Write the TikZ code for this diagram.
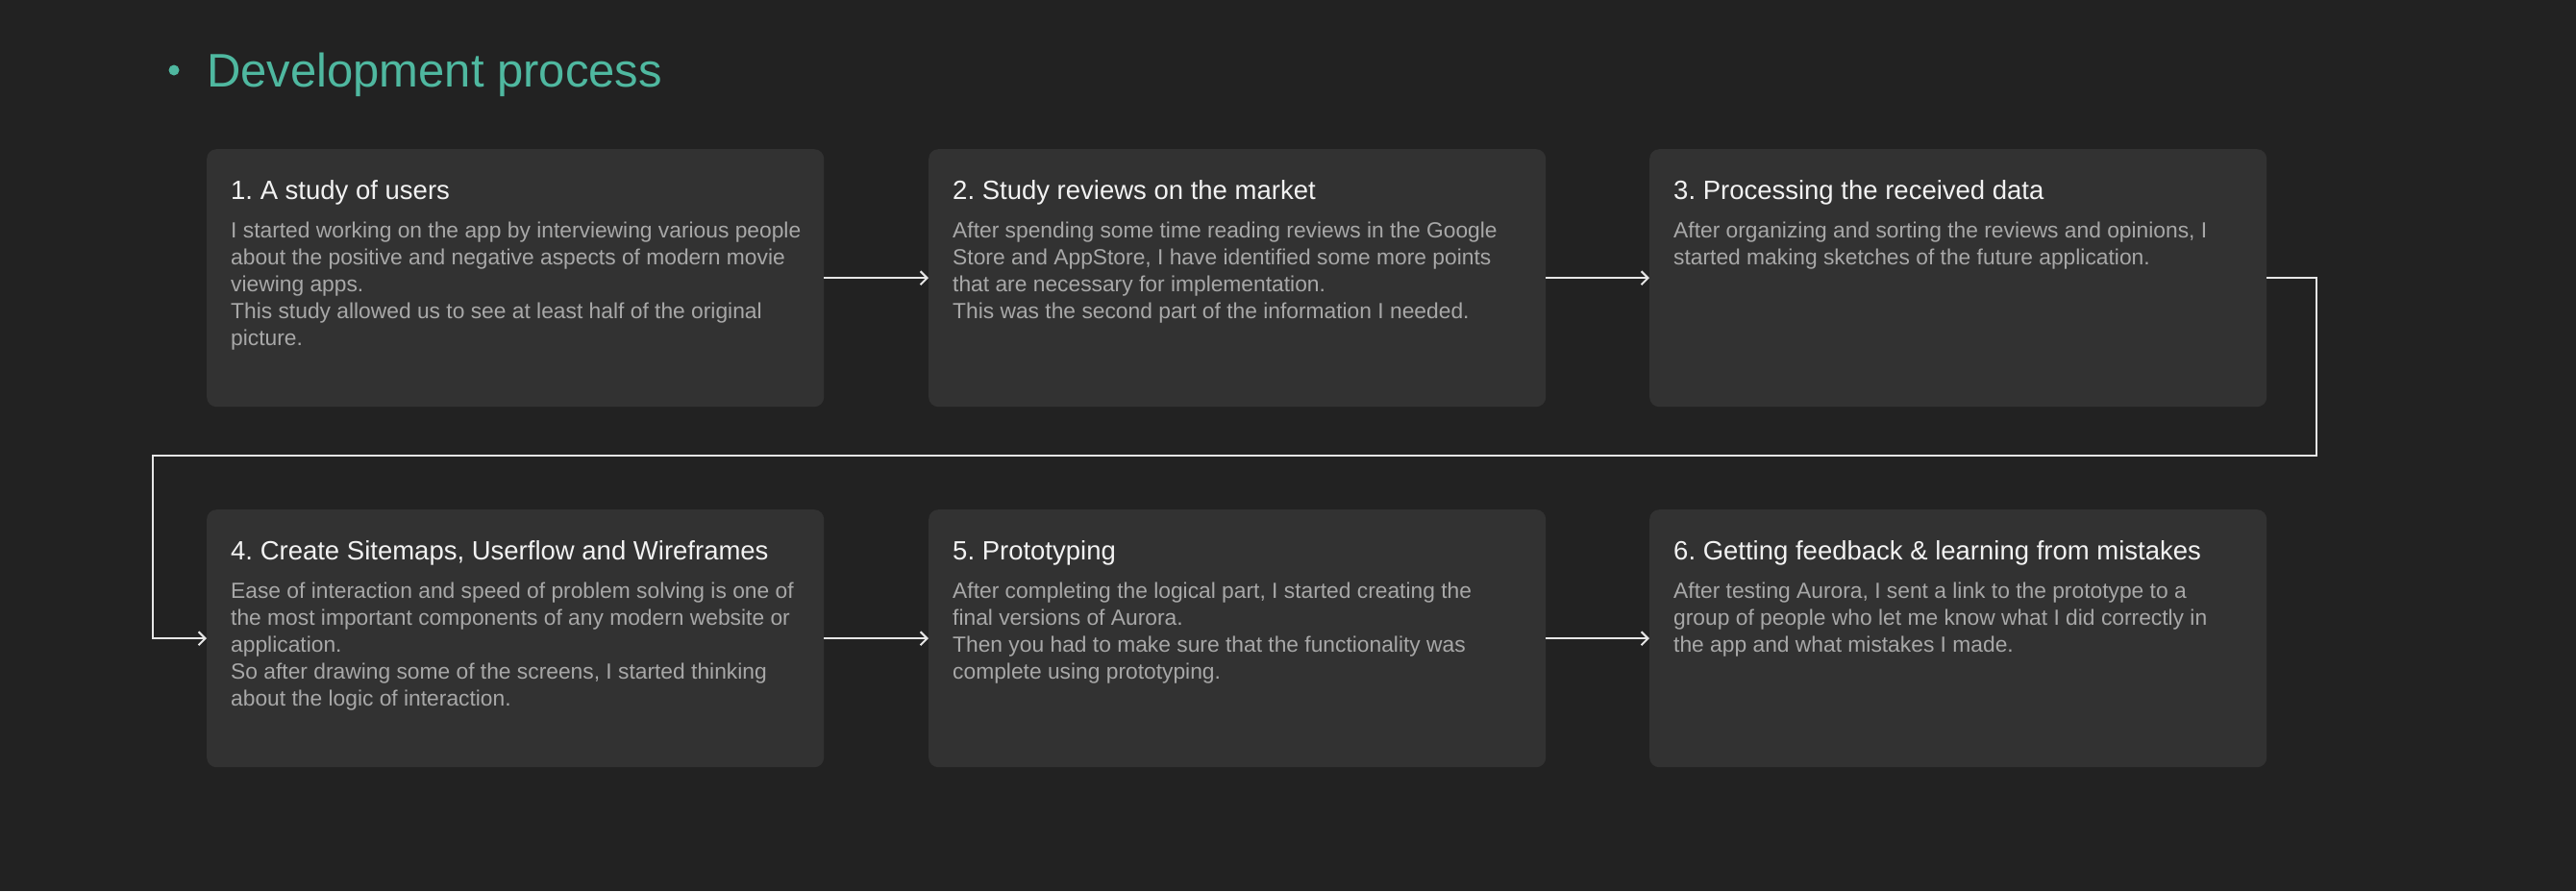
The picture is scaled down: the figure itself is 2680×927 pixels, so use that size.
\documentclass[tikz,border=0pt]{standalone}
\usepackage{fontspec}
\setmainfont{Liberation Sans}
\usetikzlibrary{arrows.meta}
\definecolor{bgc}{HTML}{222222}
\definecolor{boxc}{HTML}{323232}
\definecolor{headc}{HTML}{4FB8A0}
\definecolor{titlec}{HTML}{F2F2F2}
\definecolor{bodyc}{HTML}{A8A8A8}
\definecolor{linec}{HTML}{E6E6E6}
\frenchspacing
\begin{document}
\begin{tikzpicture}[x=1pt,y=-1pt,
  stepbox/.style={fill=boxc, rounded corners=10pt, minimum width=642pt, minimum height=268pt, anchor=north west, inner sep=0pt},
  titletext/.style={text=titlec, font=\fontsize{27.5}{30}\selectfont, anchor=base west, inner sep=0pt},
  bodytext/.style={text=bodyc, font=\fontsize{22.8}{28}\selectfont, align=left, anchor=north west, inner sep=0pt},
  conn/.style={draw=linec, line width=2pt, -{Straight Barb[length=7pt,width=14pt,line width=2pt]}}]
\fill[bgc] (0,0) rectangle (2680,927);
\useasboundingbox (0,0) rectangle (2680,927);

\node[circle, fill=headc, minimum size=11pt, inner sep=0pt] (bullet) at (181,73) {};
\node[text=headc, font=\fontsize{49}{56}\selectfont, anchor=base west, inner sep=0pt] (head) at (215,90) {Development process};

\node[stepbox] (b1) at (215,155) {};
\node[stepbox] (b2) at (966,155) {};
\node[stepbox] (b3) at (1716,155) {};
\node[stepbox] (b4) at (215,530) {};
\node[stepbox] (b5) at (966,530) {};
\node[stepbox] (b6) at (1716,530) {};

\foreach \b/\t in {b1/{1. A study of users}, b2/{2. Study reviews on the market}, b3/{3. Processing the received data}, b4/{4. Create Sitemaps, Userflow and Wireframes}, b5/{5. Prototyping}, b6/{6. Getting feedback \& learning from mistakes}}
  \node[titletext] (\b t) at ([shift={(25,52)}]\b.north west) {\t};

\node[bodytext] (b1x) at ([shift={(25,72.4)}]b1.north west) {\strut I started working on the app by interviewing various people\\about the positive and negative aspects of modern movie\\viewing apps.\\This study allowed us to see at least half of the original\\picture.};
\node[bodytext] (b2x) at ([shift={(25,72.4)}]b2.north west) {\strut After spending some time reading reviews in the Google\\Store and AppStore, I have identified some more points\\that are necessary for implementation.\\This was the second part of the information I needed.};
\node[bodytext] (b3x) at ([shift={(25,72.4)}]b3.north west) {\strut After organizing and sorting the reviews and opinions, I\\started making sketches of the future application.};
\node[bodytext] (b4x) at ([shift={(25,72.4)}]b4.north west) {\strut Ease of interaction and speed of problem solving is one of\\the most important components of any modern website or\\application.\\So after drawing some of the screens, I started thinking\\about the logic of interaction.};
\node[bodytext] (b5x) at ([shift={(25,72.4)}]b5.north west) {\strut After completing the logical part, I started creating the\\final versions of Aurora.\\Then you had to make sure that the functionality was\\complete using prototyping.};
\node[bodytext] (b6x) at ([shift={(25,72.4)}]b6.north west) {\strut After testing Aurora, I sent a link to the prototype to a\\group of people who let me know what I did correctly in\\the app and what mistakes I made.};

\coordinate (c1) at (2410,474);
\coordinate (c2) at (159,474);
\draw[conn] (b1.east) -- (b2.west);
\draw[conn] (b2.east) -- (b3.west);
\draw[conn] (b3.east) -| (c1) -- (c2) |- (b4.west);
\draw[conn] (b4.east) -- (b5.west);
\draw[conn] (b5.east) -- (b6.west);
\end{tikzpicture}
\end{document}
